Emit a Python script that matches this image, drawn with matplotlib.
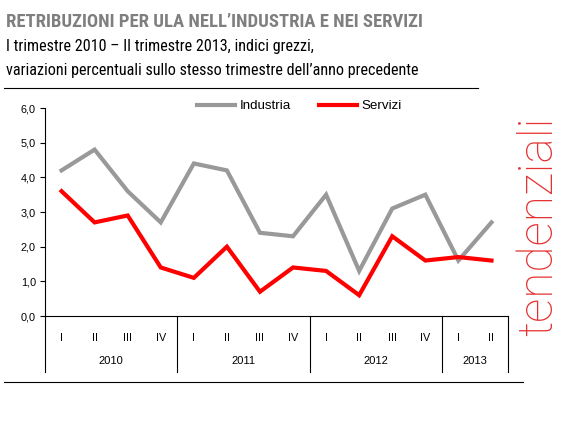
import numpy as np
import matplotlib
matplotlib.use('Agg')
import matplotlib.pyplot as plt
from matplotlib.lines import Line2D

W, H = 573, 429

NARROW = ['Roboto Condensed', 'Archivo Narrow', 'PT Sans Narrow', 'Sofia Sans Condensed', 'DejaVu Sans']
plt.rcParams.update({
    'font.family': ['Liberation Sans', 'DejaVu Sans'],
})

quarters = ['I', 'II', 'III', 'IV', 'I', 'II', 'III', 'IV',
            'I', 'II', 'III', 'IV', 'I', 'II']
years = ['2010', '2011', '2012', '2013']
year_len = [4, 4, 4, 2]
industria = [4.2, 4.8, 3.6, 2.7, 4.4, 4.2, 2.4, 2.3, 3.5, 1.3, 3.1, 3.5, 1.6, 2.7]
servizi = [3.6, 2.7, 2.9, 1.4, 1.1, 2.0, 0.7, 1.4, 1.3, 0.6, 2.3, 1.6, 1.7, 1.6]
yticks = [0, 1, 2, 3, 4, 5, 6]

COL_IND = '#999999'
COL_SER = '#ff0000'

fig = plt.figure(figsize=(W / 100, H / 100), dpi=100)


def fx(px):
    return px / W


def fy(py):
    return 1 - py / H


ax = fig.add_axes([fx(45), fy(316), fx(508) - fx(45), fy(108) - fy(316)])

x = np.arange(len(quarters))
ax.plot(x, industria, color=COL_IND, lw=3.0, solid_joinstyle='miter', label='Industria')
ax.plot(x, servizi, color=COL_SER, lw=3.0, solid_joinstyle='miter', label='Servizi')

ax.set_xlim(-0.5, len(quarters) - 0.5)
ax.set_ylim(0, 6)
ax.set_yticks(yticks)
ax.set_yticklabels([f'{v:.1f}'.replace('.', ',') for v in yticks], fontsize=7.8)
ax.tick_params(axis='y', length=3.5, width=0.8, pad=3)
ax.set_xticks([])
for s in ('top', 'right'):
    ax.spines[s].set_visible(False)
ax.spines['left'].set_linewidth(0.8)
ax.spines['bottom'].set_linewidth(0.8)

# category axis: quarters, years, separators
trans = ax.get_xaxis_transform()
ext = (372 - 316) / (316 - 108)
for i, q in enumerate(quarters):
    ax.text(i, -(338 - 316) / 208, q, transform=trans, ha='center', va='center',
            fontsize=7.8)
start = 0
bounds = [-0.5]
for yr, n in zip(years, year_len):
    ax.text(start + (n - 1) / 2, -(361 - 316) / 208, yr, transform=trans,
            ha='center', va='center', fontsize=8)
    start += n
    bounds.append(start - 0.5)
for b in bounds:
    ax.plot([b, b], [0, -ext], transform=trans, color='black', lw=0.8, clip_on=False)

ax.legend(loc='center', bbox_to_anchor=(0.549, (316 - 106) / 208), ncol=2, frameon=False,
          handlelength=2.9, columnspacing=2.1, handletextpad=0.3,
          borderpad=0, borderaxespad=0, prop={'size': 9.6})

# titles
fig.text(fx(6), fy(22), 'RETRIBUZIONI PER ULA NELL\u2019INDUSTRIA E NEI SERVIZI',
         fontsize=13.4, fontweight='bold', color='#7f7f7f', va='center', ha='left',
         family=NARROW)
fig.text(fx(6), fy(46), 'I trimestre 2010 \u2013 II trimestre 2013, indici grezzi,',
         fontsize=11.6, color='black', va='center', ha='left', family=NARROW)
fig.text(fx(6), fy(70), 'variazioni percentuali sullo stesso trimestre dell\u2019anno precedente',
         fontsize=11.6, color='black', va='center', ha='left', family=NARROW)

fig.add_artist(Line2D([fx(4), fx(478)], [fy(88), fy(88)], color='black', lw=0.8))
fig.add_artist(Line2D([fx(4), fx(523)], [fy(382), fy(382)], color='black', lw=0.8))

fig.text(fx(539), fy(226), 'tendenziali', rotation=90, ha='center', va='center',
         fontsize=34.5, color='#e53030', family=['Roboto', 'DejaVu Sans'],
         fontweight=200)

fig.savefig('out.png', dpi=100)
